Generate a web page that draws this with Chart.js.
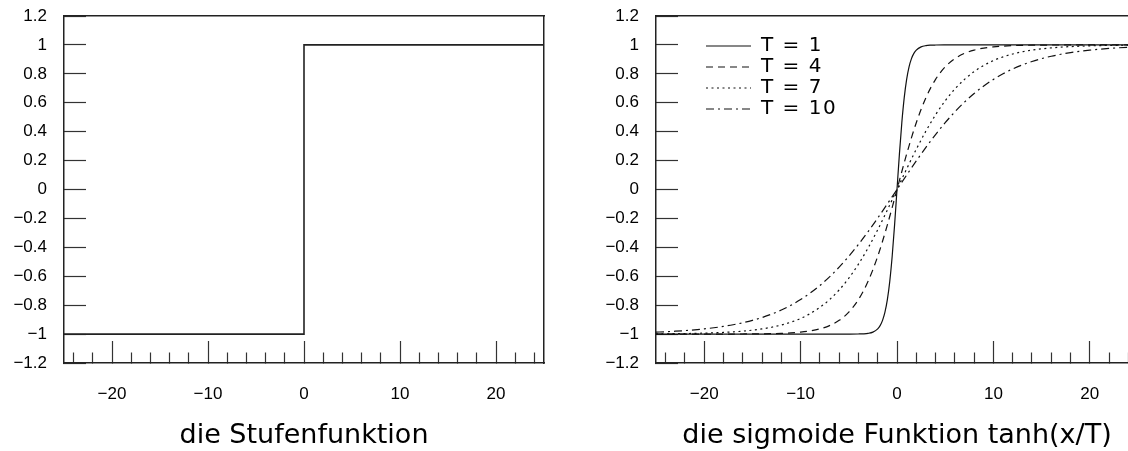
<!DOCTYPE html>
<html><head><meta charset="utf-8">
<script src="https://cdn.jsdelivr.net/npm/chart.js@4.4.1/dist/chart.umd.min.js"></script>
<style>
html,body{margin:0;padding:0;background:#fff;overflow:hidden;width:1128px;height:451px;}
#wrap{position:relative;width:1128px;height:451px;overflow:hidden;background:#fff;}
canvas{position:absolute;top:0;}
#c1{left:0;} #c2{left:592px;}
</style></head><body><div id="wrap">
<canvas id="c1" width="564" height="451"></canvas>
<canvas id="c2" width="564" height="451"></canvas>
</div>
<script>
// ---- data ----
const xRange = [-25, 25];
const yRange = [-1.2, 1.2];
const titles = ['die Stufenfunktion', 'die sigmoide Funktion tanh(x/T)'];
const seriesLabels = ['T = 1', 'T = 4', 'T = 7', 'T = 10'];
const xTickValues = [-24, -22, -20, -18, -16, -14, -12, -10, -8, -6, -4, -2, 0, 2, 4, 6, 8, 10, 12, 14, 16, 18, 20, 22, 24];
const xLabelValues = [-20, -10, 0, 10, 20];
const yTickValues = [-1.2, -1, -0.8, -0.6, -0.4, -0.2, 0, 0.2, 0.4, 0.6, 0.8, 1, 1.2];

// left panel: step function
const stepX = [-25, 0, 0, 25];
const stepY = [-1, -1, 1, 1];

// right panel: sigmoid curves
const sigX1 = [-25, -20, -15, -10, -6, -5, -4, -3.5, -3, -2.5, -2, -1.75, -1.5, -1.25, -1, -0.75, -0.5, -0.25, 0,
  0.25, 0.5, 0.75, 1, 1.25, 1.5, 1.75, 2, 2.5, 3, 3.5, 4, 5, 6, 10, 15, 20, 25];
const sigT1 = [-1, -1, -1, -1, -1, -0.9999, -0.9993, -0.9982, -0.9951, -0.9866, -0.9640, -0.9414, -0.9051, -0.8483, -0.7616, -0.6351, -0.4621, -0.2449, 0,
  0.2449, 0.4621, 0.6351, 0.7616, 0.8483, 0.9051, 0.9414, 0.9640, 0.9866, 0.9951, 0.9982, 0.9993, 0.9999, 1, 1, 1, 1, 1];

const sigX = [-25, -24, -23, -22, -21, -20, -19, -18, -17, -16, -15, -14, -13, -12, -11, -10, -9, -8, -7, -6, -5, -4, -3, -2, -1, 0,
  1, 2, 3, 4, 5, 6, 7, 8, 9, 10, 11, 12, 13, 14, 15, 16, 17, 18, 19, 20, 21, 22, 23, 24, 25];
const sigT4 = [-1, -1, -1, -1, -1, -0.9999, -0.9999, -0.9998, -0.9996, -0.9993, -0.9989, -0.9982, -0.9970, -0.9951, -0.9918, -0.9866, -0.9780, -0.9640, -0.9414, -0.9051, -0.8483, -0.7616, -0.6351, -0.4621, -0.2449, 0,
  0.2449, 0.4621, 0.6351, 0.7616, 0.8483, 0.9051, 0.9414, 0.9640, 0.9780, 0.9866, 0.9918, 0.9951, 0.9970, 0.9982, 0.9989, 0.9993, 0.9996, 0.9998, 0.9999, 0.9999, 1, 1, 1, 1, 1];
const sigT7 = [-0.9984, -0.9979, -0.9972, -0.9963, -0.9951, -0.9934, -0.9913, -0.9884, -0.9846, -0.9795, -0.9728, -0.9640, -0.9525, -0.9372, -0.9172, -0.8916, -0.8580, -0.8154, -0.7616, -0.6948, -0.6134, -0.5164, -0.4041, -0.2782, -0.1419, 0,
  0.1419, 0.2782, 0.4041, 0.5164, 0.6134, 0.6948, 0.7616, 0.8154, 0.8580, 0.8916, 0.9172, 0.9372, 0.9525, 0.9640, 0.9728, 0.9795, 0.9846, 0.9884, 0.9913, 0.9934, 0.9951, 0.9963, 0.9972, 0.9979, 0.9984];
const sigT10 = [-0.9866, -0.9837, -0.9801, -0.9757, -0.9705, -0.9640, -0.9562, -0.9468, -0.9354, -0.9217, -0.9051, -0.8854, -0.8617, -0.8337, -0.8005, -0.7616, -0.7163, -0.6640, -0.6044, -0.5370, -0.4621, -0.3799, -0.2913, -0.1974, -0.0997, 0,
  0.0997, 0.1974, 0.2913, 0.3799, 0.4621, 0.5370, 0.6044, 0.6640, 0.7163, 0.7616, 0.8005, 0.8337, 0.8617, 0.8854, 0.9051, 0.9217, 0.9354, 0.9468, 0.9562, 0.9640, 0.9705, 0.9757, 0.9801, 0.9837, 0.9866];

// ---- styling ----
const AX = '#222', TK = '#333', LINE = '#111';
const tickFont = {family: 'Liberation Sans, Arial, sans-serif', size: 17};
const titleFont = {family: 'DejaVu Sans, sans-serif', size: 27, lineHeight: 1.1};
const dashes = [[], [7, 5], [2, 3.5], [8, 4, 2, 4]];

function pts(xs, ys) { return xs.map((x, i) => ({x: x, y: ys[i]})); }
function minus(v) { return v < 0 ? '\u2212' + (-v) : String(v); }
function isMajor(v) { return xLabelValues.indexOf(v) >= 0; }
function noPad(s) { s.paddingTop = 0; s.paddingBottom = 0; s.paddingLeft = 0; s.paddingRight = 0; }

const legendShift = {
  id: 'legendShift',
  beforeDraw(chart) {
    const lg = chart.legend;
    if (chart.options.plugins.legend.display && lg) {
      lg.left = chart.chartArea.left + 49;
      lg.top = chart.chartArea.top + 19;
      if (!lg._spaced) {
        const orig = lg.draw;
        lg.draw = function (a) {
          const ctx = this.ctx;
          ctx.save();
          ctx.letterSpacing = '1.5px';
          orig.call(this, a);
          ctx.restore();
        };
        lg._spaced = true;
      }
    }
  }
};

function options(title, padRight, withLegend, withRight) {
  const scales = {
    x: {
      type: 'linear', min: xRange[0], max: xRange[1], position: 'bottom',
      afterBuildTicks: s => { s.ticks = xTickValues.map(v => ({value: v})); },
      afterFit: s => { s.height = 88; noPad(s); },
      border: {display: true, color: AX, width: 1.5},
      grid: {
        display: true, drawOnChartArea: false, drawTicks: true, tickLength: -22, tickWidth: 1.2,
        tickColor: TK,
        tickBorderDash: c => (c.tick && isMajor(c.tick.value)) ? [] : [11, 40]
      },
      ticks: {
        autoSkip: false, maxRotation: 0, minRotation: 0, padding: 43,
        font: tickFont, color: '#000',
        callback: v => isMajor(v) ? minus(v) : ''
      },
      title: {display: true, text: title, font: titleFont, color: '#000', padding: {top: 0, bottom: 0}}
    },
    y: {
      type: 'linear', min: yRange[0], max: yRange[1], position: 'left',
      afterBuildTicks: s => { s.ticks = yTickValues.map(v => ({value: v})); },
      afterFit: s => { s.width = 64; noPad(s); },
      border: {display: true, color: AX, width: 1.5},
      grid: {display: true, drawOnChartArea: false, drawTicks: true, tickLength: -22, tickWidth: 1.2, tickColor: TK},
      ticks: {
        autoSkip: false, padding: 39, font: tickFont, color: '#000',
        callback: v => minus(Math.round(v * 10) / 10)
      }
    },
    xTop: {
      type: 'linear', min: xRange[0], max: xRange[1], position: 'top',
      afterFit: s => { s.height = 0; noPad(s); },
      border: {display: true, color: AX, width: 1.5},
      grid: {display: false, drawTicks: false},
      ticks: {display: false}
    }
  };
  if (withRight) {
    scales.yRight = {
      type: 'linear', min: yRange[0], max: yRange[1], position: 'right',
      afterFit: s => { s.width = 0; noPad(s); },
      border: {display: true, color: AX, width: 1.5},
      grid: {display: false, drawTicks: false},
      ticks: {display: false}
    };
  }
  return {
    responsive: false, animation: false, devicePixelRatio: 1,
    layout: {autoPadding: false, padding: {top: 16, left: 0, bottom: 0, right: padRight}},
    plugins: {
      tooltip: {enabled: false},
      legend: {
        display: withLegend, position: 'chartArea', align: 'start',
        labels: {
          usePointStyle: true, pointStyle: 'line', pointStyleWidth: 45, padding: 1,
          font: {family: 'DejaVu Sans, sans-serif', size: 20}, color: '#000',
          generateLabels: chart => chart.data.datasets.map((ds, i) => ({
            text: ds.label, datasetIndex: i, strokeStyle: ds.borderColor, fillStyle: 'rgba(0,0,0,0)',
            lineWidth: ds.borderWidth, lineDash: ds.borderDash, pointStyle: 'line', hidden: false,
            fontColor: '#000'
          }))
        }
      }
    },
    elements: {point: {radius: 0}},
    scales: scales
  };
}

new Chart(document.getElementById('c1'), {
  type: 'line',
  data: {datasets: [{
    label: 'step', data: pts(stepX, stepY), borderColor: '#222', borderWidth: 1.6,
    tension: 0, pointRadius: 0, fill: false
  }]},
  options: options(titles[0], 20, false, true)
});

const sx = [sigX1, sigX, sigX, sigX];
const sy = [sigT1, sigT4, sigT7, sigT10];
new Chart(document.getElementById('c2'), {
  type: 'line',
  data: {datasets: seriesLabels.map((lab, i) => ({
    label: lab, data: pts(sx[i], sy[i]), borderColor: LINE, borderWidth: 1.2,
    borderDash: dashes[i], pointRadius: 0, fill: false, cubicInterpolationMode: 'monotone'
  }))},
  options: options(titles[1], 18, true, false),
  plugins: [legendShift]
});
</script>
</body></html>
